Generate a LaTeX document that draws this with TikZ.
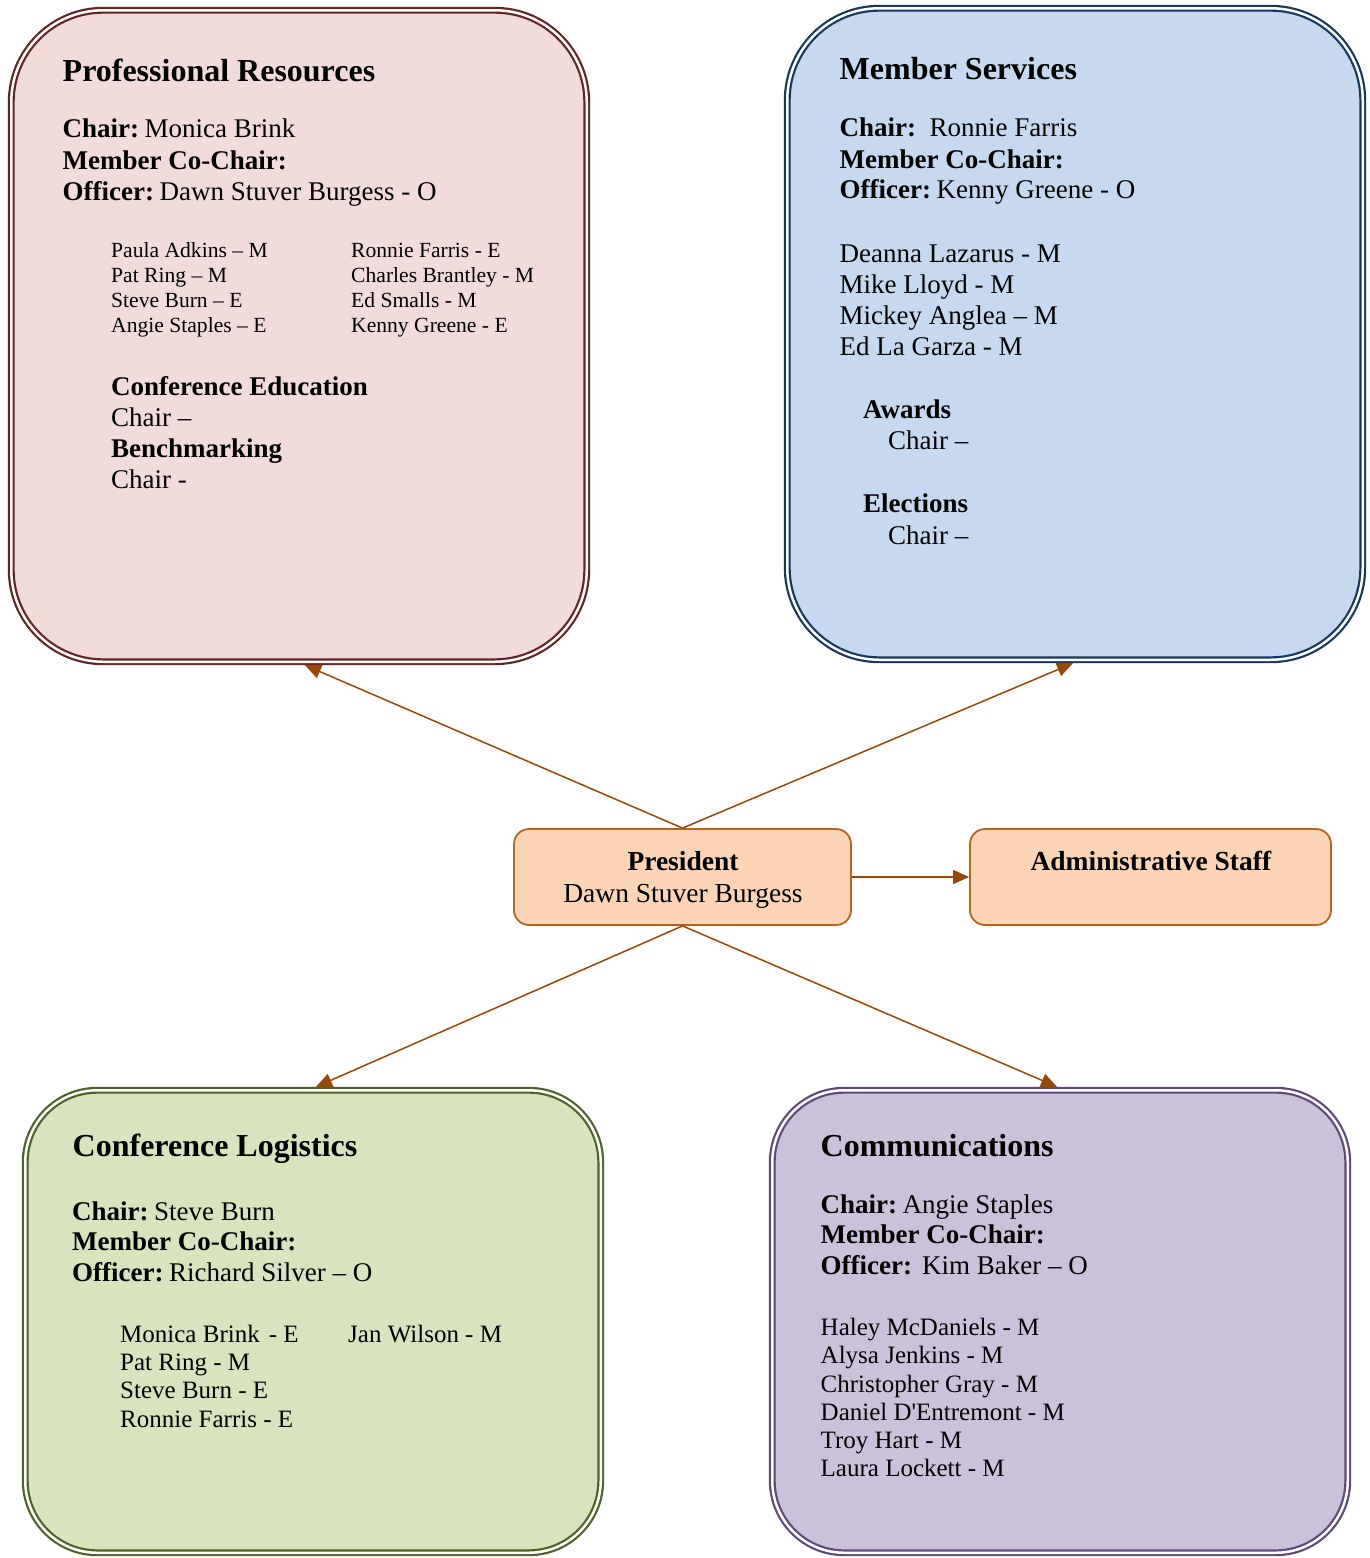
\documentclass[tikz,border=0pt]{standalone}
\usepackage{fontspec}
\setmainfont{Liberation Serif}
\usetikzlibrary{arrows.meta}
\definecolor{prfill}{HTML}{F2DCDB}
\definecolor{prline}{HTML}{632523}
\definecolor{msfill}{HTML}{C6D9F1}
\definecolor{msline}{HTML}{17375E}
\definecolor{clfill}{HTML}{D7E4BD}
\definecolor{clline}{HTML}{4F6228}
\definecolor{cmfill}{HTML}{CCC1DA}
\definecolor{cmline}{HTML}{5F497A}
\definecolor{pfill}{HTML}{FBD5B5}
\definecolor{pline}{HTML}{B7651E}
\definecolor{arrc}{HTML}{984807}
\begin{document}
\begin{tikzpicture}[x=1pt,y=-1pt,
  bigbox/.style={draw, line width=2.2pt, double=white, double distance=2.5pt,
    outer sep=3.45pt, inner sep=0pt, minimum width=575.5pt},
  smallbox/.style={draw=pline, fill=pfill, line width=1.8pt, rounded corners=15pt,
    outer sep=0.9pt, inner sep=0pt, minimum height=96pt},
  ttl/.style={anchor=base west, inner sep=0pt, font=\fontsize{32}{38}\selectfont\bfseries},
  txt/.style={anchor=base west, inner sep=0pt, font=\fontsize{27}{32}\selectfont},
  sml/.style={anchor=base west, inner sep=0pt, font=\fontsize{21.6}{26}\selectfont},
  mid/.style={anchor=base west, inner sep=0pt, font=\fontsize{25}{30}\selectfont},
  ctr/.style={anchor=base, inner sep=0pt, font=\fontsize{27.5}{32}\selectfont},
  arr/.style={draw=arrc, line width=1.5pt, -{Triangle[length=16pt,width=14pt]}}
]
\useasboundingbox (0,0) rectangle (1369,1558);
\fill[white] (0,0) rectangle (1369,1558);

% big boxes
\node[bigbox, draw=prline, fill=prfill, rounded corners=92pt, minimum height=651.5pt] (pr) at (299,336) {};
\node[bigbox, draw=msline, fill=msfill, rounded corners=92pt, minimum height=651.5pt] (ms) at (1075,334) {};
\node[bigbox, draw=clline, fill=clfill, rounded corners=72pt, minimum height=462.5pt] (cl) at (313,1321.5) {};
\node[bigbox, draw=cmline, fill=cmfill, rounded corners=72pt, minimum height=462.5pt] (cm) at (1060,1321.5) {};

% president and staff
\node[smallbox, minimum width=337pt] (pres) at (682.5,877) {};
\node[smallbox, minimum width=361pt] (adm) at (1150.5,877) {};
\node[ctr] (presA) at (683,870) {\textbf{President}};
\node[ctr] (presB) at (683,902) {Dawn Stuver Burgess};
\node[ctr] (admA) at (1151,870) {\textbf{Administrative Staff}};

% connectors
\draw[arr] (pres.north) -- ([xshift=6pt]pr.south);
\draw[arr] (pres.north) -- ([xshift=-2pt]ms.south);
\draw[arr] (pres.south) -- ([xshift=3pt]cl.north);
\draw[arr] (pres.south) -- ([xshift=-3pt]cm.north);
\draw[arr] (pres.east) -- (adm.west);

% Professional Resources
\node[ttl] (prT) at (62.5,81) {Professional Resources};
\node[txt] (pr1) at (62.5,137.5) {\textbf{Chair:}\hspace{5.5pt}Monica Brink};
\node[txt] (pr2) at (62.5,169) {\textbf{Member Co-Chair:}};
\node[txt] (pr3) at (62.5,200) {\textbf{Officer:}\hspace{5.5pt}Dawn Stuver Burgess - O};
\node[sml] (pr4) at (111,257.5) {Paula Adkins – M};
\node[sml] (pr5) at (111,282.5) {Pat Ring – M};
\node[sml] (pr6) at (111,307.5) {Steve Burn – E};
\node[sml] (pr7) at (111,332.5) {Angie Staples – E};
\node[sml] (pr8) at (351,257.5) {Ronnie Farris - E};
\node[sml] (pr9) at (351,282.5) {Charles Brantley - M};
\node[sml] (pr10) at (351,307.5) {Ed Smalls - M};
\node[sml] (pr11) at (351,332.5) {Kenny Greene - E};
\node[txt] (pr12) at (111,395) {\textbf{Conference Education}};
\node[txt] (pr13) at (111,426) {Chair –};
\node[txt] (pr14) at (111,457) {\textbf{Benchmarking}};
\node[txt] (pr15) at (111,488) {Chair -};

% Member Services
\node[ttl] (msT) at (839.5,79) {Member Services};
\node[txt] (ms1) at (839.5,136.5) {\textbf{Chair:}\ \ Ronnie Farris};
\node[txt] (ms2) at (839.5,168) {\textbf{Member Co-Chair:}};
\node[txt] (ms3) at (839.5,198.5) {\textbf{Officer:}\hspace{5.5pt}Kenny Greene - O};
\node[txt] (ms4) at (839.5,262) {Deanna Lazarus - M};
\node[txt] (ms5) at (839.5,293) {Mike Lloyd - M};
\node[txt] (ms6) at (839.5,324) {Mickey Anglea – M};
\node[txt] (ms7) at (839.5,355) {Ed La Garza - M};
\node[txt] (ms8) at (863,418) {\textbf{Awards}};
\node[txt] (ms9) at (888,449.5) {Chair –};
\node[txt] (ms10) at (863,512.5) {\textbf{Elections}};
\node[txt] (ms11) at (888,544) {Chair –};

% Conference Logistics
\node[ttl] (clT) at (72.5,1156) {Conference Logistics};
\node[txt] (cl1) at (72,1220) {\textbf{Chair:}\hspace{5.5pt}Steve Burn};
\node[txt] (cl2) at (72,1250.5) {\textbf{Member Co-Chair:}};
\node[txt] (cl3) at (72,1281) {\textbf{Officer:}\hspace{5.5pt}Richard Silver – O};
\node[mid] (cl4) at (120,1342) {Monica Brink\hspace{9pt}- E};
\node[mid] (cl5) at (120,1370) {Pat Ring - M};
\node[mid] (cl6) at (120,1398) {Steve Burn - E};
\node[mid] (cl7) at (120,1427) {Ronnie Farris - E};
\node[mid] (cl8) at (348,1342) {Jan Wilson - M};

% Communications
\node[ttl] (cmT) at (820.5,1156) {Communications};
\node[txt] (cm1) at (820.5,1213.5) {\textbf{Chair:}\hspace{5.5pt}Angie Staples};
\node[txt] (cm2) at (820.5,1243.5) {\textbf{Member Co-Chair:}};
\node[txt] (cm3) at (820.5,1274) {\textbf{Officer:}\hspace{10pt}Kim Baker – O};
\node[mid] (cm4) at (820.5,1335) {Haley McDaniels - M};
\node[mid] (cm5) at (820.5,1363.5) {Alysa Jenkins - M};
\node[mid] (cm6) at (820.5,1392) {Christopher Gray - M};
\node[mid] (cm7) at (820.5,1420) {Daniel D\textquotesingle Entremont - M};
\node[mid] (cm8) at (820.5,1448) {Troy Hart - M};
\node[mid] (cm9) at (820.5,1476) {Laura Lockett - M};
\end{tikzpicture}
\end{document}
